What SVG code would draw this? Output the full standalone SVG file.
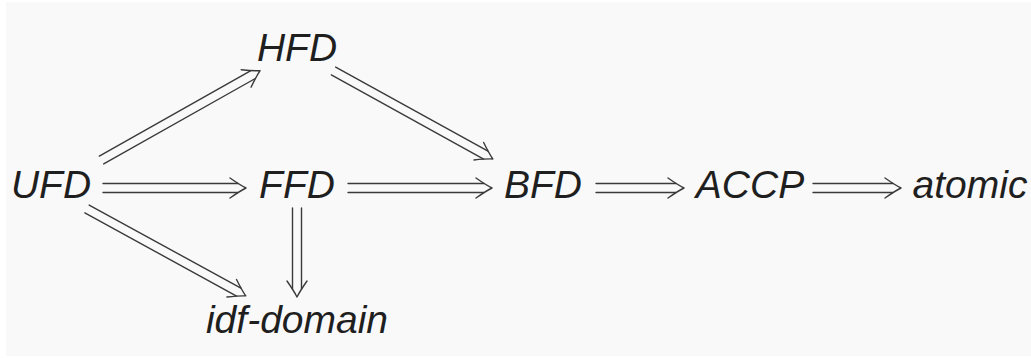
<svg xmlns="http://www.w3.org/2000/svg" width="1031" height="358" viewBox="0 0 1031 358">
<style>
.bg{fill:#f9f9f9}
.lbl{font-family:"Liberation Sans",Arial,sans-serif;font-style:italic;font-size:39px;fill:#1f1f1f;text-anchor:middle}
.ar line{stroke:#3a3a3a;stroke-width:1.4;fill:none;stroke-linecap:round}
.hd{stroke:#3a3a3a;stroke-width:1.4;fill:none;stroke-linecap:round;stroke-linejoin:round}
</style>
<defs>
<path id="head" class="hd" d="M-16,-10 Q-6,-3 0,0 Q-6,3 -16,10"/>
</defs>
<rect class="bg" x="6" y="2" width="1025" height="354"/>
<g id="connectors" class="ar">
<g id="e-ufd-ffd" transform="translate(103,188)"><line x1="0" y1="-4.5" x2="135" y2="-4.5"/><line x1="0" y1="4.5" x2="135" y2="4.5"/><use href="#head" x="143"/></g>
<g id="e-ffd-bfd" transform="translate(348,188)"><line x1="0" y1="-4.5" x2="136" y2="-4.5"/><line x1="0" y1="4.5" x2="136" y2="4.5"/><use href="#head" x="144"/></g>
<g id="e-bfd-accp" transform="translate(596,188)"><line x1="0" y1="-4.5" x2="80" y2="-4.5"/><line x1="0" y1="4.5" x2="80" y2="4.5"/><use href="#head" x="88"/></g>
<g id="e-accp-atomic" transform="translate(813,188)"><line x1="0" y1="-4.5" x2="80" y2="-4.5"/><line x1="0" y1="4.5" x2="80" y2="4.5"/><use href="#head" x="88"/></g>
<g id="e-ufd-hfd" transform="translate(101.5,160) rotate(-29.4)"><line x1="0" y1="-4.5" x2="174" y2="-4.5"/><line x1="0" y1="4.5" x2="174" y2="4.5"/><use href="#head" x="182"/></g>
<g id="e-hfd-bfd" transform="translate(333.5,71) rotate(28.9)"><line x1="0" y1="-4.5" x2="174" y2="-4.5"/><line x1="0" y1="4.5" x2="174" y2="4.5"/><use href="#head" x="182"/></g>
<g id="e-ufd-idf" transform="translate(87,209) rotate(28.7)"><line x1="0" y1="-4.5" x2="173" y2="-4.5"/><line x1="0" y1="4.5" x2="173" y2="4.5"/><use href="#head" x="181"/></g>
<g id="e-ffd-idf" transform="translate(297,208) rotate(90)"><line x1="0" y1="-4.5" x2="81" y2="-4.5"/><line x1="0" y1="4.5" x2="81" y2="4.5"/><use href="#head" x="89"/></g>
</g>
<g id="n-hfd"><text class="lbl" x="297" y="61">HFD</text></g>
<g id="n-ufd"><text class="lbl" x="51" y="198">UFD</text></g>
<g id="n-ffd"><text class="lbl" x="297" y="198">FFD</text></g>
<g id="n-bfd"><text class="lbl" x="543" y="198">BFD</text></g>
<g id="n-accp"><text class="lbl" x="750" y="198">ACCP</text></g>
<g id="n-atomic"><text class="lbl" x="970" y="198">atomic</text></g>
<g id="n-idf"><text class="lbl" x="297" y="333">idf-domain</text></g>
</svg>
